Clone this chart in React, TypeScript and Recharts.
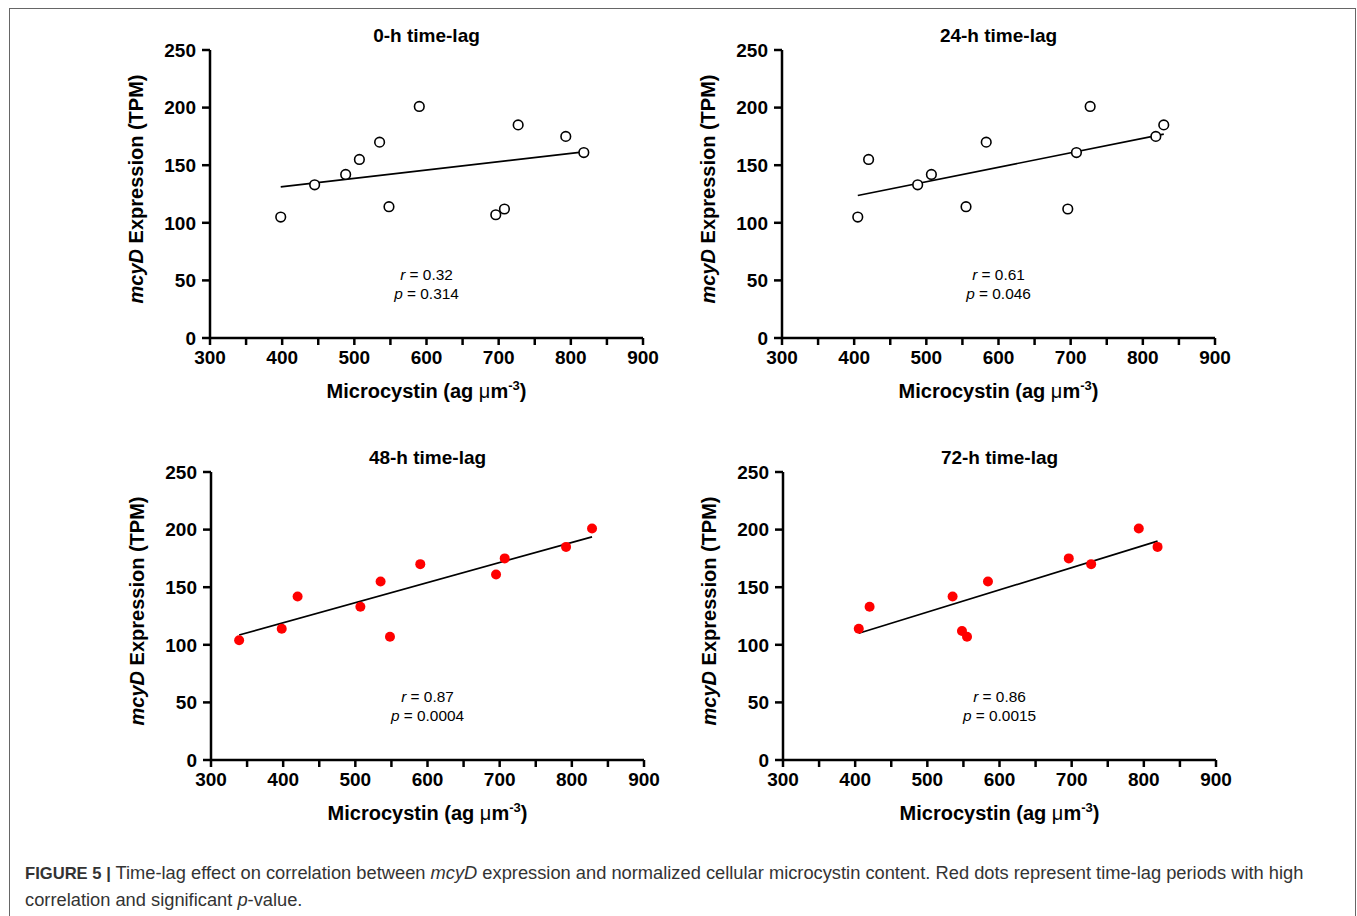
import { ScatterChart, Scatter, XAxis, YAxis } from 'recharts';

// values
const xTicks = [300, 350, 400, 450, 500, 550, 600, 650, 700, 750, 800, 850, 900];
const yTicks = [0, 50, 100, 150, 200, 250];

const lag0X = [398, 445, 488, 507, 535, 548, 590, 696, 708, 727, 793, 818];
const lag0Y = [105, 133, 142, 155, 170, 114, 201, 107, 112, 185, 175, 161];
const lag0Fit = [[398, 131.2], [818, 161.6]];

const lag24X = [405, 420, 488, 507, 555, 583, 696, 708, 727, 818, 829];
const lag24Y = [105, 155, 133, 142, 114, 170, 112, 161, 201, 175, 185];
const lag24Fit = [[405, 123.7], [829, 177]];

const lag48X = [339, 398, 420, 507, 535, 548, 590, 695, 707, 792, 828];
const lag48Y = [104, 114, 142, 133, 155, 107, 170, 161, 175, 185, 201];
const lag48Fit = [[339, 108.5], [828, 193.7]];

const lag72X = [405, 420, 535, 548, 555, 584, 696, 727, 793, 819];
const lag72Y = [114, 133, 142, 112, 107, 155, 175, 170, 201, 185];
const lag72Fit = [[405, 110], [819, 190]];

const titles = ['0-h time-lag', '24-h time-lag', '48-h time-lag', '72-h time-lag'];
const rValues = ['0.32', '0.61', '0.87', '0.86'];
const pValues = ['0.314', '0.046', '0.0004', '0.0015'];

const FONT = '"Liberation Sans", Arial, Helvetica, sans-serif';
const PLOT_W = 433;
const PLOT_H = 288;
const Y_W = 100;
const TOP = 40;
const X_H = 75;
const RIGHT = 20;
const CW = Y_W + PLOT_W + RIGHT;
const CH = TOP + PLOT_H + X_H;

function toPoints(xs: number[], ys: number[]) {
  return xs.map((x, i) => ({ x, y: ys[i] }));
}

function YLabel() {
  return (
    <text
      transform={`translate(${Y_W - 67},${TOP + PLOT_H / 2 - 5}) rotate(-90)`}
      textAnchor="middle"
      fontFamily={FONT}
      fontWeight="bold"
      fontSize={20}
      fill="#000"
    >
      <tspan fontStyle="italic">mcyD</tspan>
      <tspan>{' Expression (TPM)'}</tspan>
    </text>
  );
}

function XLabel() {
  return (
    <text
      x={Y_W + PLOT_W / 2}
      y={TOP + PLOT_H + 60}
      textAnchor="middle"
      fontFamily={FONT}
      fontWeight="bold"
      fontSize={20}
      fill="#000"
    >
      <tspan>{'Microcystin (ag '}</tspan>
      <tspan fontWeight="normal">μ</tspan>
      <tspan>m</tspan>
      <tspan fontSize={13} dy={-8}>-3</tspan>
      <tspan dy={8}>)</tspan>
    </text>
  );
}

interface PanelProps {
  left: number;
  top: number;
  idx: number;
  xs: number[];
  ys: number[];
  fit: number[][];
  filled: boolean;
}

function Panel({ left, top, idx, xs, ys, fit, filled }: PanelProps) {
  const pts = toPoints(xs, ys);
  const fitPts = fit.map(([x, y]) => ({ x, y }));
  const cx = Y_W + PLOT_W / 2;
  const tickStyle = { fill: '#000', fontSize: 19, fontWeight: 'bold', fontFamily: FONT };
  const lineStyle = { stroke: '#000', strokeWidth: 2.5 };

  return (
    <div style={{ position: 'absolute', left: left - Y_W, top: top - TOP, width: CW, height: CH }}>
      <ScatterChart width={CW} height={CH} margin={{ top: TOP, right: RIGHT, bottom: 0, left: 0 }}>
        <XAxis
          type="number"
          dataKey="x"
          domain={[300, 900]}
          ticks={xTicks}
          interval={0}
          tickFormatter={(v: number) => (v % 100 === 0 ? String(v) : '')}
          axisLine={lineStyle}
          tickLine={lineStyle}
          tickSize={7}
          tickMargin={6}
          tick={tickStyle}
          height={X_H}
          label={() => <XLabel />}
        />
        <YAxis
          type="number"
          dataKey="y"
          domain={[0, 250]}
          ticks={yTicks}
          interval={0}
          axisLine={lineStyle}
          tickLine={lineStyle}
          tickSize={8}
          tickMargin={6}
          tick={tickStyle}
          width={Y_W}
          label={() => <YLabel />}
        />
        <Scatter
          data={fitPts}
          line={{ stroke: '#000', strokeWidth: 1.7 }}
          shape={() => <g />}
          isAnimationActive={false}
        />
        <Scatter
          data={pts}
          isAnimationActive={false}
          shape={(p: any) =>
            filled ? (
              <circle cx={p.cx} cy={p.cy} r={5} fill="#ff0000" stroke="none" />
            ) : (
              <circle cx={p.cx} cy={p.cy} r={4.8} fill="#fff" stroke="#000" strokeWidth={1.6} />
            )
          }
        />
      </ScatterChart>
      <svg
        width={CW}
        height={CH}
        style={{ position: 'absolute', left: 0, top: 0, pointerEvents: 'none' }}
      >
        <text x={cx} y={TOP - 8} textAnchor="middle" fontFamily={FONT} fontWeight="bold" fontSize={19} fill="#000">
          {titles[idx]}
        </text>
        <text x={cx} y={TOP + PLOT_H - 58} textAnchor="middle" fontFamily={FONT} fontSize={15.4} fill="#000">
          <tspan fontStyle="italic">r</tspan>
          <tspan>{' = ' + rValues[idx]}</tspan>
        </text>
        <text x={cx} y={TOP + PLOT_H - 39} textAnchor="middle" fontFamily={FONT} fontSize={15.4} fill="#000">
          <tspan fontStyle="italic">p</tspan>
          <tspan>{' = ' + pValues[idx]}</tspan>
        </text>
      </svg>
    </div>
  );
}

export default function App() {
  return (
    <div
      style={{
        position: 'absolute',
        left: 0,
        top: 0,
        width: 1357,
        height: 916,
        overflow: 'hidden',
        background: '#fff',
        fontFamily: FONT,
      }}
    >
      <div
        style={{
          position: 'absolute',
          left: 9,
          top: 8,
          width: 1345,
          height: 940,
          border: '1.5px solid #666',
        }}
      />
      <Panel left={209.5} top={50} idx={0} xs={lag0X} ys={lag0Y} fit={lag0Fit} filled={false} />
      <Panel left={782} top={50} idx={1} xs={lag24X} ys={lag24Y} fit={lag24Fit} filled={false} />
      <Panel left={210.5} top={472} idx={2} xs={lag48X} ys={lag48Y} fit={lag48Fit} filled={true} />
      <Panel left={782.5} top={472} idx={3} xs={lag72X} ys={lag72Y} fit={lag72Fit} filled={true} />
      <div
        style={{
          position: 'absolute',
          left: 25,
          top: 860,
          fontSize: 18.3,
          lineHeight: '25.5px',
          color: '#333',
          whiteSpace: 'nowrap',
        }}
      >
        <b style={{ fontSize: 16.6 }}>FIGURE 5 |</b> Time-lag effect on correlation between <i>mcyD</i> expression
        and normalized cellular microcystin content. Red dots represent time-lag periods with high
        <br />
        correlation and significant <i>p</i>-value.
      </div>
    </div>
  );
}
